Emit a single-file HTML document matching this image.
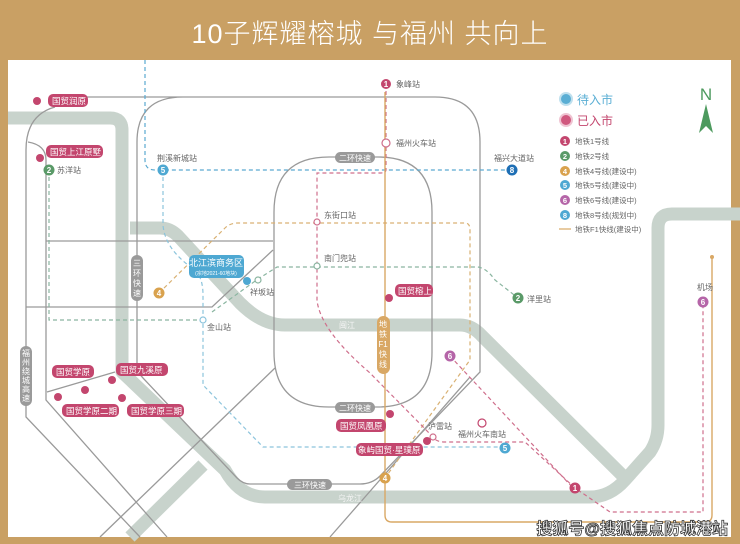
<!DOCTYPE html>
<html><head><meta charset="utf-8"><style>
html,body{margin:0;padding:0;background:#c9a064}
svg{display:block;font-family:"Liberation Sans","Noto Sans CJK SC",sans-serif}
</style></head><body>
<svg width="740" height="544" viewBox="0 0 740 544" xmlns="http://www.w3.org/2000/svg">
<rect width="740" height="544" fill="#c9a064"/>
<rect x="8" y="60" width="723" height="477" fill="#fff"/>
<text x="370" y="43" text-anchor="middle" font-size="27" fill="#fff" font-weight="300" letter-spacing="1">10子辉耀榕城 与福州 共向上</text>

<g fill="none" stroke="#c8d3cc" stroke-width="13" stroke-linejoin="round">
<path d="M8,118 H110 Q122,118 122,130 V372 L225,470 Q240,497 265,497 H590 Q610,497 625,480 L650,452 Q658,440 658,425 V228 Q658,214 672,214 H740"/>
<path d="M130,228 H160 Q170,228 178,236 L240,303 Q262,325 285,325 H460 Q472,325 482,336 L625,478"/>
<path d="M203,465 L130,537"/>
</g>

<g fill="none" stroke="#9a9a9a" stroke-width="1.3">
<path d="M86,97 H435 Q480,97 480,142 V372 L380,476 Q372,484 360,484 H250 Q243,484 237,478 L143,378 Q137,372 137,365 V142 Q137,97 183,97"/>
<path d="M55,107 Q26,115 26,150 V417 L140,537"/>
<path d="M28,142 Q46,145 46,160 V400 L167,537"/>
<path d="M46,241 H273"/>
<path d="M26,307 H212 L273,250"/>
<path d="M329,157 H378 Q432,157 432,212 V352 Q432,407 377,407 H329 Q274,407 274,352 V212 Q274,157 329,157Z"/>
<path d="M275,368 L100,537"/>
<path d="M470,377 L330,537"/>
<path d="M47,392 L115,372"/>
</g>

<g fill="none" stroke-width="1.2" stroke-dasharray="4,3">
<path stroke="#5aa9d0" d="M145,60 V160 Q145,170 155,170 H512"/>
<path stroke="#8cc4dc" d="M163,170 V225 Q165,250 195,270 Q203,278 203,295 V385 L263,447 H505"/>
<path stroke="#d9b173" d="M159,293 L225,228 Q230,223 238,223 H465 Q470,223 470,230 V360 L385,478"/>
<path stroke="#cf6f8c" d="M386,84 V170 Q386,173 380,173 H317 V300 Q320,330 370,373 L433,437 Q436,442 445,442 H525 L575,488 L610,512 H703 V302"/>
<path stroke="#cf6f8c" d="M450,356 L574,489"/>
<path stroke="#8ab5a0" d="M49,170 V320 H203 M212,312 L258,279 L277,267 H475 Q485,266 495,280 L518,298"/>
</g>
<path fill="none" stroke="#d9a865" stroke-width="1.4" d="M385,92 V515 Q385,522 392,522 H705 Q712,522 712,515 V257"/>
<circle cx="712" cy="257" r="2" fill="#d9a865"/>

<g fill="#9a9a9a">
<rect x="335" y="152" width="40" height="11" rx="5.5"/><rect x="335" y="402" width="40" height="11" rx="5.5"/>
<rect x="287" y="479" width="45" height="11" rx="5.5"/><rect x="131" y="255" width="12" height="46" rx="6"/>
<rect x="20" y="346" width="12" height="60" rx="6"/>
</g>
<g fill="#fff" font-size="8" text-anchor="middle">
<text x="355" y="161">二环快速</text><text x="355" y="411">二环快速</text><text x="310" y="488">三环快速</text>
<text x="137" y="266">三</text><text x="137" y="276">环</text><text x="137" y="286">快</text><text x="137" y="296">速</text>
<text x="26" y="356">福</text><text x="26" y="365">州</text><text x="26" y="374">绕</text><text x="26" y="383">城</text><text x="26" y="392">高</text><text x="26" y="401">速</text>
<text x="347" y="328" fill="#f4f4f4">闽江</text><text x="350" y="501" fill="#f4f4f4">乌龙江</text>
</g>
<rect x="377" y="316" width="13" height="58" rx="6.5" fill="#d9a865"/>
<g fill="#fff" font-size="8" text-anchor="middle"><text x="383" y="327">地</text><text x="383" y="337">铁</text><text x="383" y="347">F1</text><text x="383" y="357">快</text><text x="383" y="367">线</text></g>

<g font-size="8" fill="#666">
<text x="396" y="87">象峰站</text><text x="396" y="146">福州火车站</text><text x="157" y="161">荆溪新城站</text>
<text x="494" y="161">福兴大道站</text><text x="324" y="218">东街口站</text><text x="324" y="261">南门兜站</text>
<text x="57" y="173">苏洋站</text><text x="250" y="295">祥坂站</text><text x="207" y="330">金山站</text>
<text x="527" y="302">洋里站</text><text x="697" y="290">机场</text><text x="428" y="429">泸雷站</text><text x="458" y="437">福州火车南站</text>
</g>
<g fill="#fff" stroke-width="1.2">
<circle cx="386" cy="143" r="4" stroke="#cf6f8c"/><circle cx="317" cy="222" r="3" stroke="#cf6f8c"/>
<circle cx="317" cy="266" r="3" stroke="#8ab5a0"/><circle cx="203" cy="320" r="3" stroke="#8cc4dc"/>
<circle cx="258" cy="280" r="3" stroke="#8ab5a0"/><circle cx="433" cy="437" r="3" stroke="#cf6f8c"/>
<circle cx="482" cy="423" r="4" stroke="#c3466e"/>
</g>
<g font-size="8" font-weight="bold" fill="#fff" text-anchor="middle">
<circle cx="386" cy="84" r="5" fill="#c3466e"/><text x="386" y="87">1</text>
<circle cx="163" cy="170" r="5.5" fill="#4ea8d2"/><text x="163" y="173">5</text>
<circle cx="512" cy="170" r="5.5" fill="#1e6fb5"/><text x="512" y="173">8</text>
<circle cx="49" cy="170" r="5.5" fill="#5a9a68"/><text x="49" y="173">2</text>
<circle cx="159" cy="293" r="5.5" fill="#d9a24e"/><text x="159" y="296">4</text>
<circle cx="518" cy="298" r="5.5" fill="#5a9a68"/><text x="518" y="301">2</text>
<circle cx="703" cy="302" r="5.5" fill="#b565a8"/><text x="703" y="305">6</text>
<circle cx="450" cy="356" r="5.5" fill="#b565a8"/><text x="450" y="359">6</text>
<circle cx="505" cy="448" r="5.5" fill="#4ea8d2"/><text x="505" y="451">5</text>
<circle cx="385" cy="478" r="5.5" fill="#d9a24e"/><text x="385" y="481">4</text>
<circle cx="575" cy="488" r="5.5" fill="#c3466e"/><text x="575" y="491">1</text>
</g>

<g fill="#c3466e">
<circle cx="37" cy="101" r="4"/><circle cx="40" cy="158" r="4"/><circle cx="389" cy="298" r="4"/>
<circle cx="85" cy="390" r="4"/><circle cx="112" cy="380" r="4"/><circle cx="58" cy="397" r="4"/>
<circle cx="122" cy="398" r="4"/><circle cx="390" cy="414" r="4"/><circle cx="427" cy="441" r="4"/>
<rect x="48" y="94" width="40" height="13" rx="5"/><rect x="46" y="145" width="57" height="13" rx="5"/>
<rect x="395" y="284" width="38" height="13" rx="5"/><rect x="52" y="365" width="42" height="13" rx="5"/>
<rect x="116" y="363" width="52" height="13" rx="5"/><rect x="62" y="404" width="57" height="13" rx="5"/>
<rect x="127" y="404" width="57" height="13" rx="5"/><rect x="336" y="419" width="50" height="13" rx="5"/>
<rect x="356" y="443" width="67" height="13" rx="5"/>
</g>
<g fill="#fff" font-size="8.5">
<text x="52" y="104">国贸润原</text><text x="50" y="155">国贸上江原墅</text><text x="398" y="294">国贸榕上</text>
<text x="56" y="375">国贸学原</text><text x="120" y="373">国贸九溪原</text><text x="66" y="414">国贸学原二期</text>
<text x="131" y="414">国贸学原三期</text><text x="340" y="429">国贸凤凰原</text><text x="358" y="453">象屿国贸·星璞原</text>
</g>
<circle cx="247" cy="281" r="4" fill="#4ea8d2"/>
<rect x="189" y="255" width="55" height="23" rx="5" fill="#4ea8d2"/>
<text x="216" y="266" fill="#fff" font-size="9" text-anchor="middle">北江滨商务区</text>
<text x="216" y="275" fill="#fff" font-size="5" text-anchor="middle">(宗地2021-60地块)</text>

<circle cx="566" cy="99" r="6" fill="#5aaed4" stroke="#bfe0ee" stroke-width="2"/>
<text x="577" y="104" font-size="12" fill="#5aaed4">待入市</text>
<circle cx="566" cy="120" r="6" fill="#d0587e" stroke="#efc4d2" stroke-width="2"/>
<text x="577" y="125" font-size="12" fill="#c3466e">已入市</text>
<g font-size="7.5" font-weight="bold" fill="#fff" text-anchor="middle">
<circle cx="565" cy="141" r="5" fill="#c3466e"/><text x="565" y="144">1</text>
<circle cx="565" cy="156" r="5" fill="#5a9a68"/><text x="565" y="159">2</text>
<circle cx="565" cy="171" r="5" fill="#d9a24e"/><text x="565" y="174">4</text>
<circle cx="565" cy="185" r="5" fill="#4ea8d2"/><text x="565" y="188">5</text>
<circle cx="565" cy="200" r="5" fill="#b565a8"/><text x="565" y="203">6</text>
<circle cx="565" cy="215" r="5" fill="#4ea8d2"/><text x="565" y="218">8</text>
</g>
<line x1="559" y1="229" x2="571" y2="229" stroke="#d9a865" stroke-width="1.2"/>
<g font-size="7.5" fill="#666">
<text x="575" y="144">地铁1号线</text><text x="575" y="159">地铁2号线</text><text x="575" y="174">地铁4号线(建设中)</text>
<text x="575" y="188">地铁5号线(建设中)</text><text x="575" y="203">地铁6号线(建设中)</text><text x="575" y="218">地铁8号线(规划中)</text>
<text x="575" y="232">地铁F1快线(建设中)</text>
</g>
<text x="706" y="100" font-size="17" fill="#4d9a5e" text-anchor="middle">N</text>
<path d="M706,104 L699,133 L706,126 L713,133Z" fill="#4d9a5e"/>

<text x="728" y="534" font-size="16" font-weight="bold" fill="#fff" stroke="#333" stroke-width="0.8" text-anchor="end">搜狐号@搜狐焦点防城港站</text>
</svg>
</body></html>
